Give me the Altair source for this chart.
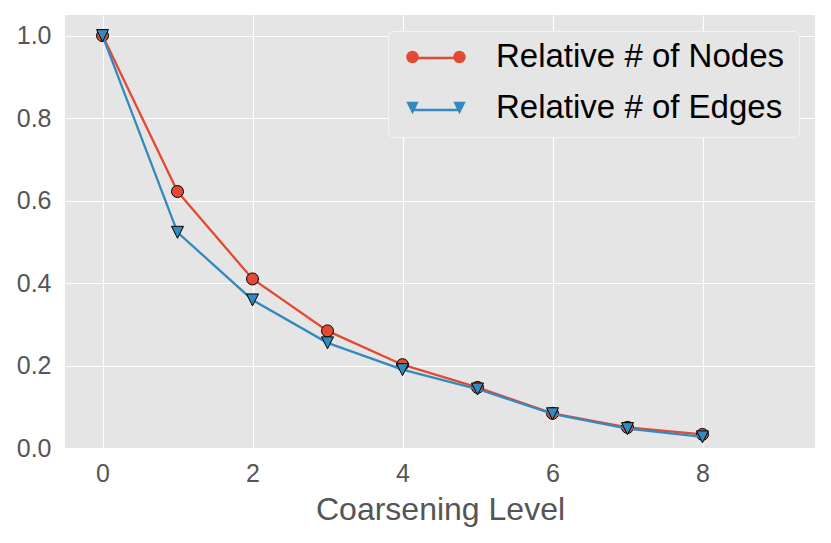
import altair as alt
import pandas as pd

# ---- data ----
levels = [0, 1, 2, 3, 4, 5, 6, 7, 8]
nodes = [1.0, 0.622, 0.410, 0.284, 0.202, 0.147, 0.084, 0.050, 0.033]
edges = [1.0, 0.523, 0.359, 0.255, 0.190, 0.143, 0.083, 0.047, 0.027]
series_names = ["Relative # of Nodes", "Relative # of Edges"]
series_codes = ["nodes", "edges"]
x_ticks = [0, 2, 4, 6, 8]
y_ticks = [0.0, 0.2, 0.4, 0.6, 0.8, 1.0]

RED = "#E24A33"
BLUE = "#348ABD"
FONT = "Liberation Sans"

n = len(levels)
df = pd.DataFrame({
    "level": levels + levels,
    "value": nodes + edges,
    "series": [series_names[0]] * n + [series_names[1]] * n,
    "code": [series_codes[0]] * n + [series_codes[1]] * n,
})

# ---- marker shapes ----
TRI_MAIN = "M-1,-1L1,-1L0,1Z"


def circle_path(cx, r):
    k = 0.5523 * r
    return (f"M{cx + r:.4f},0C{cx + r:.4f},{k:.4f} {cx + k:.4f},{r:.4f} {cx:.4f},{r:.4f}"
            f"C{cx - k:.4f},{r:.4f} {cx - r:.4f},{k:.4f} {cx - r:.4f},0"
            f"C{cx - r:.4f},{-k:.4f} {cx - k:.4f},{-r:.4f} {cx:.4f},{-r:.4f}"
            f"C{cx + k:.4f},{-r:.4f} {cx + r:.4f},{-k:.4f} {cx + r:.4f},0Z")


def tri_path(cx, r):
    return f"M{cx - r:.4f},{-r:.4f}L{cx + r:.4f},{-r:.4f}L{cx:.4f},{r:.4f}Z"


LEG_SIZE = 47 * 47
rr = 6.2 / 23.5
LEG_CIRC = circle_path(-1, rr) + circle_path(1, rr)
LEG_TRI = tri_path(-1, rr) + tri_path(1, rr)

xscale = alt.Scale(domain=[-0.5, 9.5], nice=False, zero=False)
yscale = alt.Scale(domain=[0, 1.05], nice=False)
xaxis = alt.Axis(values=x_ticks, format="d", title="Coarsening Level", domain=False, ticks=False,
                 labelPadding=13, titlePadding=8, labelFont=FONT, labelFontSize=25,
                 labelColor="#555555", titleFont=FONT, titleFontSize=32, titleColor="#555555",
                 titleFontWeight="normal", gridColor="white", gridWidth=1.2)
yaxis = alt.Axis(values=y_ticks, format=".1f", title=None, domain=False, ticks=False,
                 labelPadding=14, labelFont=FONT, labelFontSize=25, labelColor="#555555",
                 gridColor="white", gridWidth=1.2)

entry_leg = dict(orient="none", legendX=347, legendY=18, symbolSize=LEG_SIZE,
                 labelFontSize=33, labelFont=FONT, labelColor="black", title=None,
                 padding=0, rowPadding=10, labelOffset=36, labelLimit=0)
box_legend = alt.Legend(orient="none", legendX=323, legendY=16, symbolSize=LEG_SIZE,
                        labelFontSize=33, labelFont=FONT, title=None, padding=7,
                        rowPadding=10, labelOffset=350, labelLimit=0, labelExpr="''",
                        symbolOpacity=0, symbolStrokeWidth=0, symbolType="stroke",
                        fillColor="#E5E5E5", strokeColor="#F4F4F4", cornerRadius=5)
line_legend = alt.Legend(symbolType="stroke", symbolStrokeWidth=2.3, labelExpr="''", **entry_leg)
marker_legend = alt.Legend(symbolStrokeColor="black", symbolStrokeWidth=1, symbolOpacity=1,
                           **entry_leg)

base = alt.Chart(df).encode(
    x=alt.X("level:Q", scale=xscale, axis=xaxis),
    y=alt.Y("value:Q", scale=yscale, axis=yaxis),
)

layers = []
# legend frame (no visible marks)
layers.append(base.transform_filter("false").mark_line().encode(
    strokeDash=alt.StrokeDash("series:N",
                              scale=alt.Scale(domain=series_names[::-1], range=[[1, 0], [1, 0]]),
                              legend=box_legend)))

line_scale = alt.Scale(domain=series_codes, range=[RED, BLUE])
main_shapes = ["circle", TRI_MAIN]
for code, col, shp in zip(series_codes, [RED, BLUE], main_shapes):
    sub = base.transform_filter(alt.datum.code == code)
    layers.append(sub.mark_line(strokeWidth=2.3).encode(
        stroke=alt.Stroke("code:N", scale=line_scale, legend=line_legend)))
    layers.append(sub.mark_point(filled=True, fill=col, shape=shp, size=144, stroke="black",
                                 strokeWidth=1, opacity=1))

# legend markers (no visible marks)
hidden = base.transform_filter("false").mark_point(filled=True, stroke="black", strokeWidth=1).encode(
    color=alt.Color("series:N", scale=alt.Scale(domain=series_names, range=[RED, BLUE]),
                    legend=marker_legend),
    shape=alt.Shape("series:N", scale=alt.Scale(domain=series_names, range=[LEG_CIRC, LEG_TRI]),
                    legend=marker_legend),
)
layers.append(hidden)

chart = alt.layer(*layers).properties(
    width=750, height=433,
    autosize=alt.AutoSizeParams(type="none"),
    padding={"left": 57, "top": 7, "right": 8, "bottom": 80},
).configure_view(fill="#E5E5E5", stroke=None)

chart.save("out.html", embed_options={"renderer": "svg", "actions": False})
